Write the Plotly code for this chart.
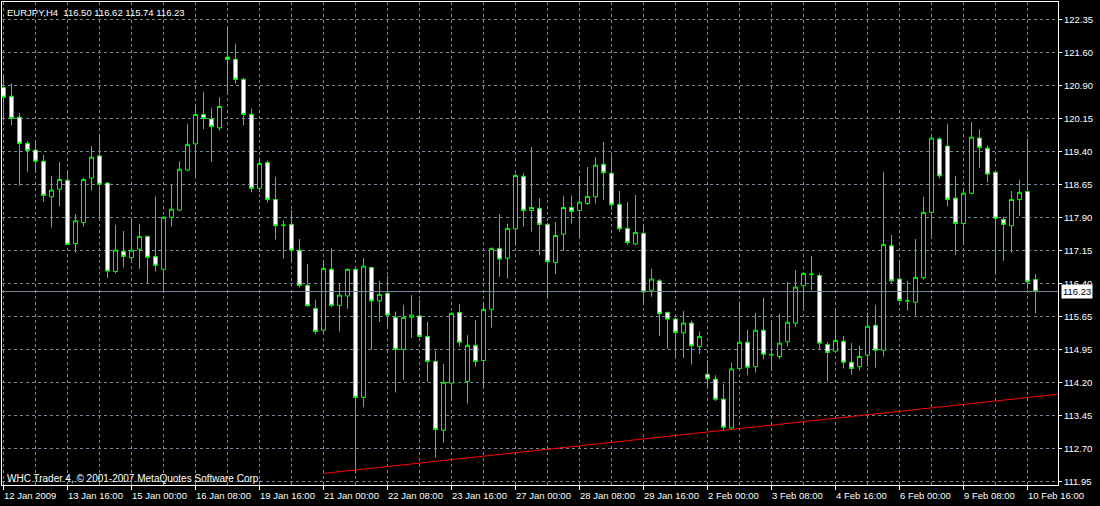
import numpy as np
import plotly.graph_objects as go

symbol = "EURJPY,H4"
footer = "WHC Trader 4, \u00a9 2001-2007 MetaQuotes Software Corp."

opens = [120.82, 120.62, 120.15, 119.56, 119.41, 119.16, 118.36, 118.53, 118.73, 117.31,
         117.78, 118.78, 119.28, 118.67, 116.68, 117.13, 116.99, 117.18, 117.47, 117.02,
         116.73, 117.90, 118.06, 118.96, 119.55, 120.21, 120.11, 119.91, 121.50, 121.45,
         121.00, 120.21, 118.55, 119.13, 118.30, 117.72, 117.74, 117.16, 116.37, 115.85,
         115.36, 116.73, 115.92, 116.13, 116.73, 113.85, 116.77, 116.02, 116.19, 115.65,
         114.93, 115.65, 115.68, 115.22, 114.66, 113.11, 114.17, 115.76, 114.21, 115.02,
         114.68, 115.83, 117.20, 116.98, 117.64, 118.82, 118.05, 118.10, 117.74, 116.88,
         117.52, 118.12, 118.05, 118.21, 118.36, 119.09, 118.89, 118.19, 117.65, 117.30,
         117.54, 116.26, 116.47, 115.76, 115.61, 115.30, 115.52, 114.99, 114.37, 114.26,
         113.81, 113.16, 114.50, 115.09, 114.54, 115.36, 114.81, 114.77, 115.10, 115.52,
         116.36, 116.62, 116.59, 115.04, 114.89, 115.11, 114.64, 114.54, 114.80, 115.47,
         114.91, 117.26, 116.51, 116.02, 115.99, 116.54, 118.01, 119.66, 119.50, 118.33,
         117.76, 118.44, 119.68, 119.45, 118.91, 117.85, 117.71, 118.30, 118.48, 116.50]
highs = [121.10, 120.91, 120.25, 119.61, 119.60, 119.30, 118.83, 119.14, 118.95, 117.97,
         118.79, 119.50, 119.77, 118.69, 117.73, 117.59, 117.89, 117.75, 117.49, 118.37,
         117.92, 118.63, 119.16, 120.00, 120.45, 120.72, 120.36, 120.60, 122.18, 121.80,
         121.04, 120.34, 119.24, 119.18, 118.81, 117.82, 118.06, 117.41, 116.85, 116.04,
         116.92, 117.20, 116.42, 116.75, 116.75, 116.98, 116.79, 116.47, 116.58, 115.78,
         115.93, 116.15, 116.04, 115.55, 114.90, 114.60, 115.76, 115.95, 115.25, 115.59,
         115.99, 117.22, 117.97, 117.76, 118.88, 118.89, 119.48, 118.33, 117.78, 117.79,
         118.38, 118.39, 118.83, 119.03, 119.25, 119.59, 119.29, 118.49, 118.24, 118.40,
         117.75, 116.74, 116.51, 115.78, 115.65, 115.79, 115.57, 115.33, 114.69, 114.35,
         114.15, 114.63, 116.00, 115.37, 115.75, 116.09, 115.59, 115.73, 116.44, 116.71,
         116.66, 117.03, 116.64, 115.09, 115.83, 115.23, 115.07, 115.01, 115.76, 115.93,
         118.92, 117.50, 116.91, 116.47, 117.41, 118.36, 119.70, 119.70, 120.00, 118.83,
         118.56, 120.04, 119.88, 119.51, 118.93, 117.91, 118.49, 118.74, 119.67, 116.62]
lows = [120.07, 119.97, 118.61, 118.92, 118.91, 118.25, 117.67, 118.14, 117.28, 117.11,
        117.69, 118.50, 117.91, 116.54, 116.64, 116.77, 116.92, 116.74, 116.41, 116.68,
        116.21, 117.69, 118.04, 118.94, 118.81, 119.88, 119.15, 119.85, 120.66, 120.91,
        119.97, 118.46, 118.46, 118.23, 117.40, 116.97, 116.89, 116.32, 115.89, 115.27,
        115.27, 115.88, 115.33, 115.84, 112.14, 113.63, 114.92, 115.55, 115.40, 113.96,
        114.24, 115.19, 115.20, 114.20, 112.50, 112.83, 113.79, 114.99, 113.71, 114.54,
        114.06, 115.42, 116.56, 116.52, 117.26, 117.69, 117.58, 117.05, 116.09, 116.62,
        117.14, 117.76, 117.43, 118.18, 118.21, 118.29, 118.06, 117.58, 117.28, 117.27,
        115.94, 116.11, 115.23, 114.94, 114.73, 114.74, 114.59, 114.83, 114.06, 113.77,
        113.10, 113.12, 114.45, 114.35, 114.41, 114.71, 114.45, 114.71, 114.99, 115.44,
        115.80, 116.26, 114.93, 114.20, 114.87, 114.50, 114.36, 114.45, 114.54, 114.52,
        114.77, 116.43, 116.01, 115.80, 115.69, 116.50, 117.48, 118.78, 118.14, 117.05,
        117.28, 118.42, 119.01, 118.68, 116.62, 116.92, 117.11, 117.93, 116.29, 115.74]
closes = [120.60, 120.12, 119.56, 119.40, 119.16, 118.39, 118.51, 118.75, 117.29, 117.82,
          118.75, 119.25, 118.64, 116.69, 117.16, 117.02, 117.16, 117.47, 117.00, 116.82,
          117.90, 118.08, 118.98, 119.54, 120.21, 120.12, 119.94, 120.39, 121.45, 121.00,
          120.21, 118.55, 119.11, 118.30, 117.71, 117.72, 117.16, 116.37, 115.91, 115.33,
          116.75, 115.92, 116.15, 116.73, 113.85, 116.80, 116.02, 116.16, 115.70, 114.93,
          115.65, 115.70, 115.22, 114.66, 113.13, 114.19, 115.74, 115.09, 115.02, 114.66,
          115.83, 117.20, 116.96, 117.65, 118.84, 118.05, 118.12, 117.74, 116.90, 117.49,
          118.12, 118.03, 118.24, 118.37, 119.07, 118.90, 118.18, 117.64, 117.33, 117.56,
          116.22, 116.51, 115.73, 115.61, 115.31, 115.52, 115.01, 115.22, 114.27, 113.81,
          113.18, 114.49, 115.09, 114.53, 115.36, 114.82, 114.81, 115.07, 115.54, 116.33,
          116.64, 116.62, 115.07, 114.86, 115.13, 114.64, 114.50, 114.77, 115.45, 114.91,
          117.29, 116.47, 116.03, 116.02, 116.55, 118.01, 119.68, 118.83, 118.30, 117.76,
          118.44, 119.70, 119.47, 118.87, 117.88, 117.74, 118.30, 118.46, 116.45, 116.23]

date_labels = ["12 Jan 2009", "13 Jan 16:00", "15 Jan 00:00", "16 Jan 08:00", "19 Jan 16:00",
               "21 Jan 00:00", "22 Jan 08:00", "23 Jan 16:00", "27 Jan 00:00", "28 Jan 08:00",
               "29 Jan 16:00", "2 Feb 00:00", "3 Feb 08:00", "4 Feb 16:00", "6 Feb 00:00",
               "9 Feb 08:00", "10 Feb 16:00"]
bars_per_label = 8
price_labels = ["111.95", "112.70", "113.45", "114.20", "114.95", "115.65", "116.40", "117.15",
                "117.90", "118.65", "119.40", "120.15", "120.90", "121.60", "122.35"]

bid_price = closes[-1]
trend_x = [40, 90]
trend_y = [112.14, 113.11]

x_range = [-0.19, 131.81]
y_range = [111.88, 122.74]

GRID = "#778899"
FONT = "Liberation Sans"

n = len(opens)
x = list(range(n))

fig = go.Figure()

fig.add_trace(go.Candlestick(
    x=x, open=opens, high=highs, low=lows, close=closes,
    increasing=dict(line=dict(color="#00ff00", width=1), fillcolor="#000000"),
    decreasing=dict(line=dict(color="#00ff00", width=1), fillcolor="#ffffff"),
    whiskerwidth=0, hoverinfo="skip", showlegend=False,
))

# bid line
fig.add_trace(go.Scatter(x=x_range, y=[bid_price, bid_price], mode="lines",
                         line=dict(color=GRID, width=1), hoverinfo="skip", showlegend=False))

# trend line (ray extended to right edge)
slope = (trend_y[1] - trend_y[0]) / (trend_x[1] - trend_x[0])
tx = [trend_x[0], x_range[1]]
ty = [trend_y[0], trend_y[0] + slope * (x_range[1] - trend_x[0])]
fig.add_trace(go.Scatter(x=tx, y=ty, mode="lines", line=dict(color="#ff0000", width=1),
                         hoverinfo="skip", showlegend=False))

tickvals_y = np.linspace(float(price_labels[0]), float(price_labels[-1]), len(price_labels))

annotations = []
for i, lab in enumerate(date_labels):
    annotations.append(dict(x=i * bars_per_label, y=0, xref="x", yref="paper",
                            text=lab, showarrow=False, xanchor="left", yanchor="top",
                            xshift=-2, yshift=-3, font=dict(family=FONT, size=9.5, color="white")))

header = "%s\u00a0\u00a0%.2f %.2f %.2f %.2f" % (symbol, opens[-1], highs[-1], lows[-1], closes[-1])
annotations.append(dict(x=0, y=1, xref="paper", yref="paper", text=header, showarrow=False,
                        xanchor="left", yanchor="top", xshift=3, yshift=-3,
                        font=dict(family=FONT, size=9.5, color="white")))
annotations.append(dict(x=0, y=0, xref="paper", yref="paper", text=footer, showarrow=False,
                        xanchor="left", yanchor="bottom", xshift=3, yshift=-1,
                        font=dict(family=FONT, size=10, color="white")))
annotations.append(dict(x=1, y=bid_price, xref="paper", yref="y", text="%.2f" % bid_price,
                        showarrow=False, xanchor="left", yanchor="middle", xshift=3,
                        bgcolor="white", borderpad=1,
                        font=dict(family=FONT, size=9.5, color="black")))

fig.update_layout(
    width=1100, height=506,
    margin=dict(l=2, r=42, t=2, b=21),
    paper_bgcolor="black", plot_bgcolor="black",
    boxgap=0.5, boxgroupgap=0, hovermode=False, dragmode=False,
    annotations=annotations,
    xaxis=dict(range=x_range, tick0=0, dtick=bars_per_label, showticklabels=False,
               ticks="outside", ticklen=4, tickcolor="white",
               showgrid=True, gridcolor=GRID, griddash="3px,3px", gridwidth=1,
               minor=dict(dtick=bars_per_label // 2, tick0=0, showgrid=True, gridcolor=GRID,
                          griddash="3px,3px", ticks=""),
               showline=True, linecolor="white", linewidth=1, mirror=True,
               zeroline=False, rangeslider=dict(visible=False), fixedrange=True),
    yaxis=dict(range=y_range, side="right", tickvals=tickvals_y, ticktext=price_labels,
               ticks="outside", ticklen=3, tickcolor="white",
               tickfont=dict(family=FONT, size=9.5, color="white"),
               showgrid=True, gridcolor=GRID, griddash="3px,3px", gridwidth=1,
               showline=True, linecolor="white", linewidth=1, mirror=True,
               zeroline=False, fixedrange=True),
)

fig.write_html("out.html", config={"displayModeBar": False},
               post_script="document.body.style.margin='0';document.body.style.overflow='hidden';")
